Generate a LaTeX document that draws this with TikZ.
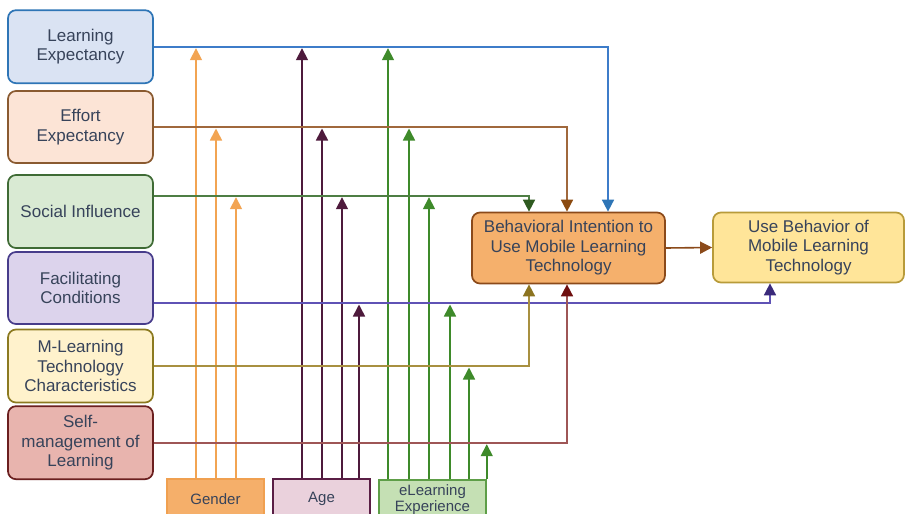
\documentclass[tikz,border=0pt]{standalone}
\usepackage{fontspec}
\setmainfont{Liberation Sans}
\usetikzlibrary{arrows.meta}
\definecolor{txt}{HTML}{37435A}
\definecolor{leF}{HTML}{DAE3F3}\definecolor{leD}{HTML}{2E75B6}\definecolor{leL}{HTML}{3D7CC9}
\definecolor{eeF}{HTML}{FCE4D6}\definecolor{eeD}{HTML}{8A5A30}\definecolor{eeL}{HTML}{A0683C}\definecolor{eeA}{HTML}{8B4A10}
\definecolor{siF}{HTML}{D9EAD3}\definecolor{siD}{HTML}{3F6B35}\definecolor{siL}{HTML}{4E7E44}\definecolor{siA}{HTML}{2E5A20}
\definecolor{fcF}{HTML}{DCD3EC}\definecolor{fcD}{HTML}{473C8B}\definecolor{fcL}{HTML}{5F52B5}\definecolor{fcA}{HTML}{3A2A7A}
\definecolor{mtF}{HTML}{FFF2CC}\definecolor{mtD}{HTML}{8C7A20}\definecolor{mtL}{HTML}{A89040}\definecolor{mtA}{HTML}{8C7420}
\definecolor{smF}{HTML}{E8B4AE}\definecolor{smD}{HTML}{6B1F1F}\definecolor{smL}{HTML}{9E5656}\definecolor{smA}{HTML}{6E0E0E}
\definecolor{biF}{HTML}{F5B06C}\definecolor{biD}{HTML}{8B4A1A}
\definecolor{ubF}{HTML}{FFE599}\definecolor{ubD}{HTML}{B89B3A}
\definecolor{gnF}{HTML}{F5AF6A}\definecolor{gnD}{HTML}{F0A050}\definecolor{gnA}{HTML}{F2A452}
\definecolor{agF}{HTML}{EAD1DC}\definecolor{agD}{HTML}{5A1E45}\definecolor{agA}{HTML}{4E1A3C}
\definecolor{elF}{HTML}{C5E0B4}\definecolor{elD}{HTML}{5E9E48}\definecolor{elA}{HTML}{3E8A2A}
\begin{document}
\begin{tikzpicture}[x=1pt,y=-1pt,
  lbox/.style={draw, line width=1.7pt, rounded corners=8pt, minimum width=145pt,
    minimum height=72pt, align=center, inner sep=2pt, text=txt,
    font=\fontsize{17}{19.5}\selectfont},
  mbox/.style={draw, line width=1.5pt, minimum width=97pt, minimum height=40pt,
    align=center, inner sep=1pt, text=txt, font=\fontsize{15}{16}\selectfont},
  arr/.style={line width=1.6pt, -{Triangle[width=12pt,length=12pt,color=#1]}},
  modarr/.style={line width=1.6pt, shorten >=1.5pt, #1, -{Triangle[width=12pt,length=12pt]}}
]
\useasboundingbox (0,0) rectangle (905,514);
\clip (0,0) rectangle (905,514);
\fill[white] (0,0) rectangle (905,514);

% left boxes
\node[lbox, fill=leF, draw=leD, minimum height=73pt] (le) at (80.5,46.7) {Learning\\Expectancy};
\node[lbox, fill=eeF, draw=eeD] (ee) at (80.5,127) {Effort\\Expectancy};
\node[lbox, fill=siF, draw=siD, minimum height=73pt] (si) at (80.5,211.5) {Social Influence};
\node[lbox, fill=fcF, draw=fcD] (fc) at (80.5,288) {Facilitating\\Conditions};
\node[lbox, fill=mtF, draw=mtD, minimum height=73pt] (mt) at (80.5,366) {M-Learning\\Technology\\Characteristics};
\node[lbox, fill=smF, draw=smD, minimum height=73pt] (sm) at (80.5,442.7) {Self-\\management of\\Learning};

\coordinate (siP) at ([yshift=15.8pt]si.east);
\coordinate (fcP) at ([yshift=-15pt]fc.east);

% outcome boxes
\node[lbox, fill=biF, draw=biD, minimum width=193pt, minimum height=71pt] (bi) at (568.5,248) {Behavioral Intention to\\Use Mobile Learning\\Technology};
\node[lbox, fill=ubF, draw=ubD, minimum width=191pt, minimum height=70pt] (ub) at (808.5,247.5) {Use Behavior of\\Mobile Learning\\Technology};

% moderator boxes
\node[mbox, fill=gnF, draw=gnD] (gen) at (215.5,499) {Gender};
\node[mbox, fill=agF, draw=agD] (age) at (321.5,499) {Age};
\node[mbox, fill=elF, draw=elD, minimum width=107pt] (el) at (432.5,500) {eLearning\\Experience};

% moderator arrows
\draw[modarr=gnA] ([xshift=-19.5pt]gen.north) coordinate (g1) -- (g1 |- le.east);
\draw[modarr=gnA] ([xshift=0.5pt]gen.north) coordinate (g2) -- (g2 |- ee.east);
\draw[modarr=gnA] ([xshift=20.5pt]gen.north) coordinate (g3) -- (g3 |- siP);

\draw[modarr=agA] ([xshift=-19.5pt]age.north) coordinate (a1) -- (a1 |- le.east);
\draw[modarr=agA] ([xshift=0.5pt]age.north) coordinate (a2) -- (a2 |- ee.east);
\draw[modarr=agA] ([xshift=20.5pt]age.north) coordinate (a3) -- (a3 |- siP);
\draw[modarr=agA] ([xshift=37.5pt]age.north) coordinate (a4) -- (a4 |- fcP);

\draw[modarr=elA] ([xshift=-44.5pt]el.north) coordinate (e1) -- (e1 |- le.east);
\draw[modarr=elA] ([xshift=-23.5pt]el.north) coordinate (e2) -- (e2 |- ee.east);
\draw[modarr=elA] ([xshift=-3.5pt]el.north) coordinate (e3) -- (e3 |- siP);
\draw[modarr=elA] ([xshift=17.5pt]el.north) coordinate (e4) -- (e4 |- fcP);
\draw[modarr=elA] ([xshift=36.5pt]el.north) coordinate (e5) -- (e5 |- mt.east);
\draw[modarr=elA] (el.north east) -- (el.north east |- sm.east);

% main connectors
\draw[arr=leD, leL] (le.east) -| ([xshift=39.5pt]bi.north);
\draw[arr=eeA, eeL] (ee.east) -| ([xshift=-1.5pt]bi.north);
\draw[arr=siA, siL] (siP) -| ([xshift=-39.5pt]bi.north);
\draw[arr=fcA, fcL] (fcP) -| ([xshift=-38.5pt]ub.south);
\draw[arr=mtA, mtL] (mt.east) -| ([xshift=-39.5pt]bi.south);
\draw[arr=smA, smL] (sm.east) -| ([xshift=-1.5pt]bi.south);
\draw[arr=biD, biD] (bi.east) -- (ub.west);
\end{tikzpicture}
\end{document}
